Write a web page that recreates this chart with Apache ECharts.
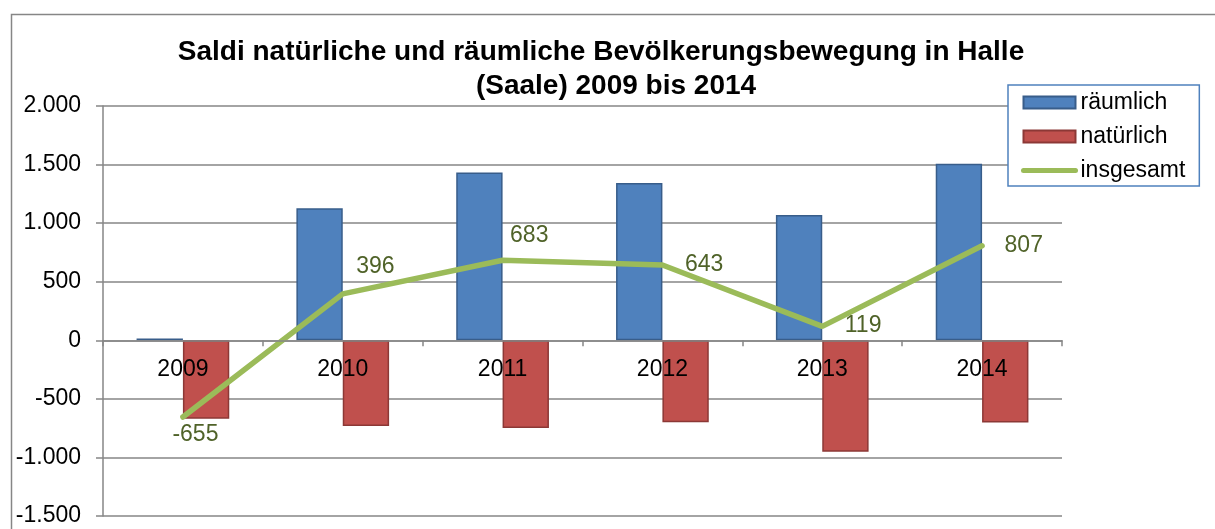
<!DOCTYPE html>
<html>
<head>
<meta charset="utf-8">
<script src="https://cdn.jsdelivr.net/npm/echarts@6/dist/echarts.min.js"></script>
<style>
  html, body { margin: 0; padding: 0; background: #fff; }
  #chart { width: 1215px; height: 529px; }
</style>
</head>
<body>
<div id="chart"></div>
<script>
// Daten
const years = ['2009', '2010', '2011', '2012', '2013', '2014']
const raeumlich = [15, 1128, 1432, 1342, 1070, 1508]
const natuerlich = [-670, -732, -749, -699, -951, -701]
const insgesamt = [-655, 396, 683, 643, 119, 807]
const yMin = -1500, yMax = 2000, yStep = 500

// Lage der Datenbeschriftungen der Linie (nur Stil)
const labelOffsets = [[-16, 18], [8, -27], [2, -25], [17, 0], [17, -1], [17, 0]]

const gridTop = 106, gridBottom = 13, H = 529
const plotH = H - gridTop - gridBottom
// x-Achse auf die Nulllinie legen
const zeroOffset = -plotH * (0 - yMin) / (yMax - yMin)

const fmt = v => {
  const s = Math.abs(v).toString().replace(/\B(?=(\d{3})+(?!\d))/g, '.')
  return (v < 0 ? '-' : '') + s
}

const chart = echarts.init(document.getElementById('chart'))
const option = {
  animation: false,
  textStyle: { fontFamily: 'Liberation Sans, Arial, sans-serif' },
  title: [
    {
      text: 'Saldi natürliche und räumliche Bevölkerungsbewegung in Halle',
      left: 601, top: 38, textAlign: 'center', padding: 0,
      textStyle: { fontSize: 28, fontWeight: 'bold', color: '#000' }
    },
    {
      text: '(Saale) 2009 bis 2014',
      left: 616, top: 72, textAlign: 'center', padding: 0,
      textStyle: { fontSize: 28, fontWeight: 'bold', color: '#000' }
    }
  ],
  graphic: [{
    type: 'rect',
    left: 9, top: 12,
    shape: { width: 1400, height: 700 },
    style: { fill: 'none', stroke: '#868686', lineWidth: 1.5 },
    silent: true
  }],
  legend: {
    orient: 'vertical',
    left: 1008,
    top: 85,
    padding: [6, 14, 4, 13],
    itemGap: 11,
    itemWidth: 52,
    itemHeight: 12,
    borderColor: '#4f81bd',
    borderWidth: 1.5,
    borderRadius: 0,
    backgroundColor: '#fff',
    textStyle: { fontSize: 23, color: '#000', padding: 0 },
    data: [
      { name: 'räumlich', icon: 'rect' },
      { name: 'natürlich', icon: 'rect' },
      { name: 'insgesamt', itemStyle: { opacity: 0 }, lineStyle: { width: 5, cap: 'round' } }
    ]
  },
  grid: { left: 103, right: 153, top: gridTop, bottom: gridBottom, outerBoundsMode: 'none' },
  xAxis: {
    type: 'category',
    data: years,
    z: 10,
    offset: zeroOffset,
    axisLine: { onZero: false, lineStyle: { color: '#868686', width: 1.5 } },
    axisTick: { show: true, length: 6, lineStyle: { color: '#868686', width: 1.5 } },
    axisLabel: { fontSize: 23, color: '#000', margin: 18 }
  },
  yAxis: {
    type: 'value',
    min: yMin,
    max: yMax,
    interval: yStep,
    axisLine: { show: true, lineStyle: { color: '#868686', width: 1.5 } },
    axisTick: { show: true, length: 7, lineStyle: { color: '#868686', width: 1.5 } },
    axisLabel: { fontSize: 23, color: '#000', margin: 22, formatter: fmt },
    splitLine: { lineStyle: { color: '#868686', width: 1.5 } }
  },
  series: [
    {
      name: 'räumlich',
      type: 'bar',
      data: raeumlich,
      barGap: '0%',
      barCategoryGap: '42%',
      itemStyle: { color: '#4f81bd', borderColor: '#385d8a', borderWidth: 1.5 }
    },
    {
      name: 'natürlich',
      type: 'bar',
      data: natuerlich,
      itemStyle: { color: '#c0504d', borderColor: '#8c3836', borderWidth: 1.5 }
    },
    {
      name: 'insgesamt',
      type: 'line',
      z: 5,
      symbol: 'circle',
      symbolSize: 1,
      showSymbol: true,
      data: insgesamt.map((v, i) => ({
        value: v,
        label: { offset: labelOffsets[i] }
      })),
      lineStyle: { color: '#9bbb59', width: 5.5, cap: 'round' },
      itemStyle: { color: '#9bbb59' },
      label: {
        show: true,
        position: 'right',
        fontSize: 23,
        color: '#4f6228',
        formatter: p => fmt(p.value)
      }
    }
  ]
}
chart.setOption(option)
</script>
</body>
</html>
